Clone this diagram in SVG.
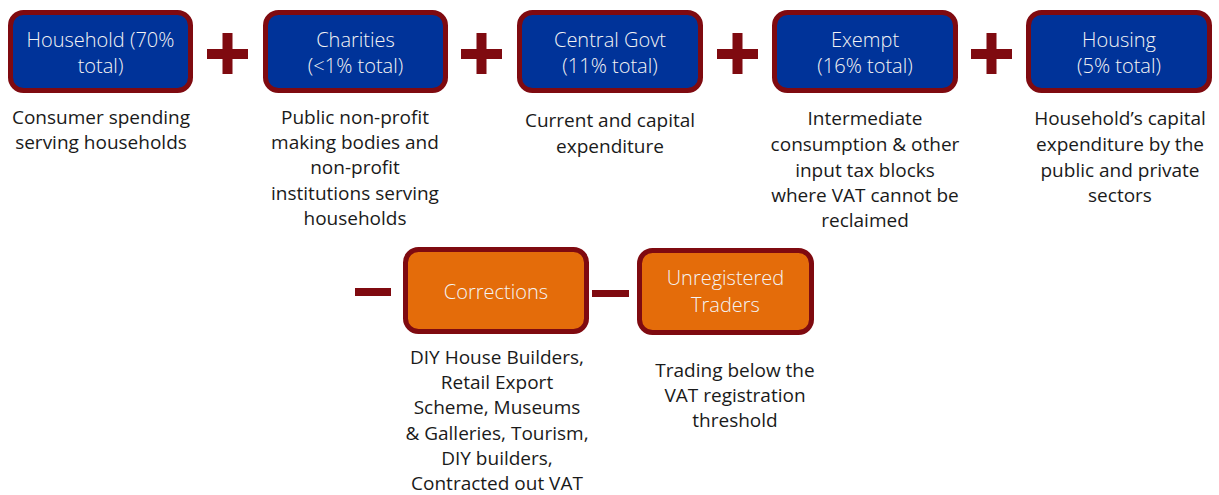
<svg xmlns="http://www.w3.org/2000/svg" width="1219" height="495" viewBox="0 0 1219 495">
<style>
.blue{fill:#003399;stroke:#7f0a10;stroke-width:5}
.orange{fill:#e46c0a;stroke:#7f0a10;stroke-width:5}
.bt{font-family:"Open Sans","Liberation Sans",sans-serif;font-size:20px;font-weight:300;fill:#f4f4f4;text-anchor:middle}
.dt{font-family:"Open Sans","Liberation Sans",sans-serif;font-size:19px;fill:#1a1a1a;text-anchor:middle}
.op{fill:#7f0a10}
</style>
<rect width="1219" height="495" fill="#ffffff"/>
<g id="household">
<rect class="blue" x="10.5" y="12.5" width="180" height="78" rx="13"/>
<text class="bt" x="100.5" y="47">Household (70%</text>
<text class="bt" x="100.5" y="73">total)</text>
<text class="dt" x="101" y="124">Consumer spending</text>
<text class="dt" x="101" y="149">serving households</text>
</g>
<g id="charities">
<rect class="blue" x="265.5" y="12.5" width="180" height="78" rx="13"/>
<text class="bt" x="355.5" y="47">Charities</text>
<text class="bt" x="355.5" y="73">(&lt;1% total)</text>
<text class="dt" x="355" y="124">Public non-profit</text>
<text class="dt" x="355" y="149">making bodies and</text>
<text class="dt" x="355" y="174">non-profit</text>
<text class="dt" x="355" y="200">institutions serving</text>
<text class="dt" x="355" y="225">households</text>
</g>
<g id="centralgovt">
<rect class="blue" x="519.5" y="12.5" width="181" height="78" rx="13"/>
<text class="bt" x="610" y="47">Central Govt</text>
<text class="bt" x="610" y="73">(11% total)</text>
<text class="dt" x="610" y="127">Current and capital</text>
<text class="dt" x="610" y="153">expenditure</text>
</g>
<g id="exempt">
<rect class="blue" x="774.5" y="12.5" width="181" height="78" rx="13"/>
<text class="bt" x="865" y="47">Exempt</text>
<text class="bt" x="865" y="73">(16% total)</text>
<text class="dt" x="865" y="125">Intermediate</text>
<text class="dt" x="865" y="151">consumption &amp; other</text>
<text class="dt" x="865" y="177">input tax blocks</text>
<text class="dt" x="865" y="202">where VAT cannot be</text>
<text class="dt" x="865" y="227">reclaimed</text>
</g>
<g id="housing">
<rect class="blue" x="1028.5" y="12.5" width="181" height="78" rx="13"/>
<text class="bt" x="1119" y="47">Housing</text>
<text class="bt" x="1119" y="73">(5% total)</text>
<text class="dt" x="1120" y="125">Household’s capital</text>
<text class="dt" x="1120" y="151">expenditure by the</text>
<text class="dt" x="1120" y="177">public and private</text>
<text class="dt" x="1120" y="202">sectors</text>
</g>
<g id="corrections">
<rect class="orange" x="405.5" y="249.5" width="181" height="82" rx="13"/>
<text class="bt" x="496" y="299">Corrections</text>
<text class="dt" x="497" y="364">DIY House Builders,</text>
<text class="dt" x="497" y="389">Retail Export</text>
<text class="dt" x="497" y="414">Scheme, Museums</text>
<text class="dt" x="497" y="440">&amp; Galleries, Tourism,</text>
<text class="dt" x="497" y="465">DIY builders,</text>
<text class="dt" x="497" y="490">Contracted out VAT</text>
</g>
<g id="unregistered">
<rect class="orange" x="639.5" y="250.5" width="172" height="82" rx="13"/>
<text class="bt" x="725.5" y="285">Unregistered</text>
<text class="bt" x="725.5" y="312">Traders</text>
<text class="dt" x="735" y="377">Trading below the</text>
<text class="dt" x="735" y="402">VAT registration</text>
<text class="dt" x="735" y="427">threshold</text>
</g>
<g id="connectors">
<path class="op" d="M207 49h41v10h-41z M222.5 33h10v41h-10z"/>
<path class="op" d="M461 49h41v10h-41z M476.5 33h10v41h-10z"/>
<path class="op" d="M717 49h41v10h-41z M732.5 33h10v41h-10z"/>
<path class="op" d="M971 49h41v10h-41z M986.5 33h10v41h-10z"/>
<rect class="op" x="355" y="288" width="36" height="8"/>
<rect class="op" x="592" y="290" width="37" height="7"/>
</g>
</svg>
